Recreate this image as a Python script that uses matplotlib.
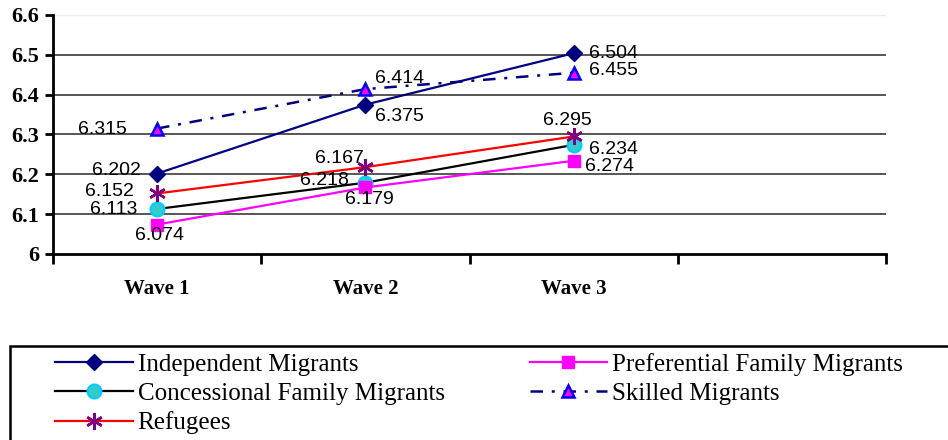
import numpy as np
import matplotlib
matplotlib.use('Agg')
import matplotlib.pyplot as plt
from matplotlib.patches import Rectangle

# data
waves = ['Wave 1', 'Wave 2', 'Wave 3']
independent = [6.202, 6.375, 6.504]
preferential = [6.074, 6.167, 6.234]
concessional = [6.113, 6.179, 6.274]
skilled = [6.315, 6.414, 6.455]
refugees = [6.152, 6.218, 6.295]

# label offsets (pixels) from each point, mimicking the original placement
off_independent = [(-41, 3), (34, -12), (40, 0)]
off_preferential = [(2, -11), (-26, 29), (40, 11)]
off_concessional = [(-43, -1), (4, -17), (36, -22)]
off_skilled = [(-55, -1), (34, 11), (40, 2)]
off_refugees = [(-48, 2), (-41, -13), (-6, 16)]

fig = plt.figure(figsize=(9.48, 4.4), dpi=100)
ax = fig.add_axes([53 / 948, 1 - 254 / 440, 833 / 948, 239 / 440])

x = np.arange(len(waves)) + 0.5

series = [
    ('Independent Migrants', independent, off_independent,
     dict(color='#000080', lw=1.6, ls='-', marker='D', ms=8,
          mfc='#000080', mec='#000080')),
    ('Concessional Family Migrants', concessional, off_concessional,
     dict(color='black', lw=1.6, ls='-', marker='o', ms=10,
          mfc='#33CCCC', mec='#00CCFF', mew=1.5)),
    ('Refugees', refugees, off_refugees,
     dict(color='#FF0000', lw=1.6, ls='-', marker=(6, 2, 0), ms=12,
          mfc='#800080', mec='#800080', mew=1.8)),
    ('Preferential Family Migrants', preferential, off_preferential,
     dict(color='#FF00FF', lw=1.6, ls='-', marker='s', ms=9,
          mfc='#FF00FF', mec='#FF00FF')),
    ('Skilled Migrants', skilled, off_skilled,
     dict(color='#000080', lw=1.8, ls=(0, (5, 3.5, 1.2, 3.5)), marker='^', ms=9,
          mfc='#FF00FF', mec='#0000FF', mew=1.8)),
]

handles = []
for name, vals, offs, style in series:
    h, = ax.plot(x, vals, label=name, zorder=3, **style)
    handles.append(h)
    for xi, v, (dx, dy) in zip(x, vals, offs):
        ax.annotate(f'{v:.3f}', (xi, v), xytext=(dx, dy),
                    textcoords='offset pixels', ha='center', va='center',
                    fontsize=14, family='Liberation Sans', zorder=4)

ax.set_xlim(0, 4)
ax.set_ylim(6.0, 6.6)
yt = np.round(np.arange(6.0, 6.61, 0.1), 1)
ax.set_yticks(yt)
ax.set_yticklabels(['6'] + [f'{v:.1f}' for v in yt[1:]])
ax.set_xticks(range(5))
ax.set_xticklabels([])
ax.set_xticks(x, minor=True)
ax.set_xticklabels(waves, minor=True)

for lab in ax.get_yticklabels():
    lab.set_fontfamily('Liberation Serif')
    lab.set_fontweight('bold')
    lab.set_fontsize(16)
for lab in ax.get_xticklabels(minor=True):
    lab.set_fontfamily('Liberation Serif')
    lab.set_fontweight('bold')
    lab.set_fontsize(15)

ax.tick_params(axis='y', which='major', direction='out', length=6, width=2, pad=4)
ax.tick_params(axis='x', which='major', direction='out', length=7, width=2)
ax.tick_params(axis='x', which='minor', length=0, pad=18)

for v in yt[1:-1]:
    ax.axhline(v, color='#3a3a3a', lw=1.2, zorder=1)
ax.axhline(6.6, color='#eeeeee', lw=1, zorder=1)

ax.spines['top'].set_visible(False)
ax.spines['right'].set_visible(False)
ax.spines['left'].set_linewidth(2)
ax.spines['bottom'].set_linewidth(2)

# legend box (runs off the figure edge like the original)
fig.patches.append(Rectangle((10 / 948, -0.1), 1.0, 0.1 + 1 - 346 / 440,
                             transform=fig.transFigure, fill=False,
                             edgecolor='black', lw=1.8, clip_on=False))
fig.legend(handles=handles, loc='upper left',
           bbox_to_anchor=(55 / 948, 1 - 353 / 440), ncol=2, frameon=False,
           borderpad=0, borderaxespad=0, handlelength=3.1, handletextpad=0.2,
           columnspacing=3.4, labelspacing=0.26,
           prop={'family': 'Liberation Serif', 'size': 18})

fig.savefig('out.png', dpi=100)
